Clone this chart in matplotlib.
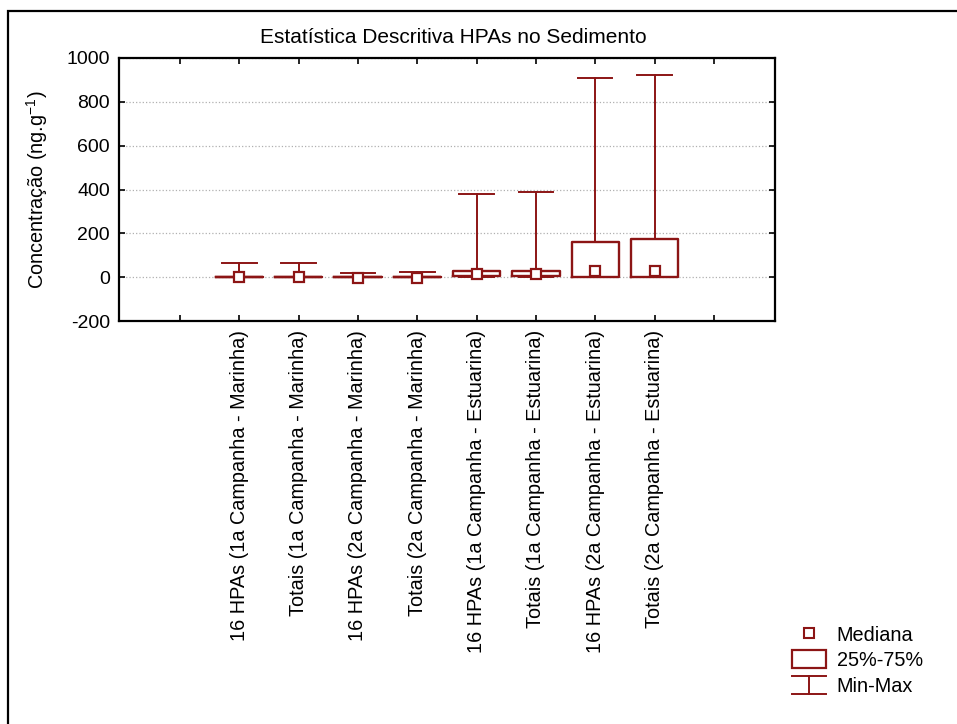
import matplotlib
matplotlib.use('Agg')
import matplotlib.pyplot as plt
from matplotlib.lines import Line2D
from matplotlib.patches import Rectangle
from matplotlib.legend_handler import HandlerBase

plt.rcParams['font.family'] = ['Liberation Sans', 'DejaVu Sans']
plt.rcParams['mathtext.fontset'] = 'custom'
plt.rcParams['mathtext.rm'] = 'Liberation Sans'
plt.rcParams['axes.unicode_minus'] = False

# valores (ng.g-1)
categorias = ['16 HPAs (1a Campanha - Marinha)', 'Totais (1a Campanha - Marinha)',
              '16 HPAs (2a Campanha - Marinha)', 'Totais (2a Campanha - Marinha)',
              '16 HPAs (1a Campanha - Estuarina)', 'Totais (1a Campanha - Estuarina)',
              '16 HPAs (2a Campanha - Estuarina)', 'Totais (2a Campanha - Estuarina)']
minimo = [0, 0, 0, 0, 1, 1, 0, 0]
q1 = [0, 0, 0, 0, 5, 5, 2, 2]
mediana = [1, 2, -6, -6, 15, 15, 30, 30]
q3 = [3, 3, 2, 2, 27, 27, 162, 173]
maximo = [63, 65, 21, 23, 381, 390, 907, 924]

cor = '#8c1515'

fig = plt.figure(figsize=(9.57, 7.24), dpi=100)
ax = fig.add_axes([0.1243, 0.5566, 0.6855, 0.3633])

pos = list(range(1, len(categorias) + 1))
stats = []
for i in range(len(categorias)):
    stats.append({'whislo': minimo[i], 'q1': q1[i], 'med': mediana[i],
                  'q3': q3[i], 'whishi': maximo[i], 'fliers': []})

ax.bxp(stats, positions=pos, widths=0.8, capwidths=0.58, showfliers=False,
       boxprops=dict(color=cor, linewidth=1.7),
       whiskerprops=dict(color=cor, linewidth=1.4),
       capprops=dict(color=cor, linewidth=1.4),
       medianprops=dict(linestyle='none'), manage_ticks=False, zorder=3)
ax.plot(pos, mediana, 's', ms=7.5, mfc='white', mec=cor, mew=1.6,
        linestyle='none', zorder=4)

ax.set_xlim(-1.03, 10.03)
ax.set_ylim(-200, 1000)
ax.set_yticks(range(-200, 1001, 200))
ax.set_xticks(range(0, 10))
ax.set_xticklabels([''] + categorias + [''], rotation=90)
ax.tick_params(direction='in', top=True, right=True, length=4, width=1.2,
               labelsize=14, pad=6.5)
ax.tick_params(axis='x', labelsize=14.3)
for s in ax.spines.values():
    s.set_linewidth(1.6)
ax.yaxis.grid(True, linestyle=':', color='#b0b0b0', linewidth=0.9)
ax.set_axisbelow(True)

ax.set_title('Estatística Descritiva HPAs no Sedimento', fontsize=15,
             x=0.51, pad=11)
ax.set_ylabel('Concentração (ng.g$^{-1}$)', fontsize=14.3, labelpad=12)


class HandlerMinMax(HandlerBase):
    def create_artists(self, legend, orig_handle, xdescent, ydescent,
                       width, height, fontsize, trans):
        x0, x1 = -xdescent, -xdescent + width
        y0, y1 = -ydescent, -ydescent + height
        xm = (x0 + x1) / 2
        linhas = [Line2D([x0, x1], [y1, y1]), Line2D([x0, x1], [y0, y0]),
                  Line2D([xm, xm], [y0, y1])]
        for l in linhas:
            l.set_color(cor)
            l.set_linewidth(1.4)
            l.set_transform(trans)
        return linhas


h_med = Line2D([], [], marker='s', ms=7, mfc='white', mec=cor, mew=1.5,
               linestyle='none')
h_box = Rectangle((0, 0), 1, 1, facecolor='white', edgecolor=cor, linewidth=1.6)
h_mm = object()
fig.legend([h_med, h_box, h_mm], ['Mediana', '25%-75%', 'Min-Max'],
           handler_map={h_mm: HandlerMinMax()}, loc='upper left',
           bbox_to_anchor=(0.8276, 0.137), frameon=False, fontsize=14.3,
           borderpad=0, handlelength=1.7, handleheight=1.0,
           handletextpad=0.55, labelspacing=0.3, borderaxespad=0)

# moldura da figura
fig.patches.append(Rectangle((8 / 957, -0.2), 1.2, 1.2 - 11 / 724,
                             transform=fig.transFigure, fill=False,
                             edgecolor='black', linewidth=1.6))

fig.savefig('out.png', dpi=100)
